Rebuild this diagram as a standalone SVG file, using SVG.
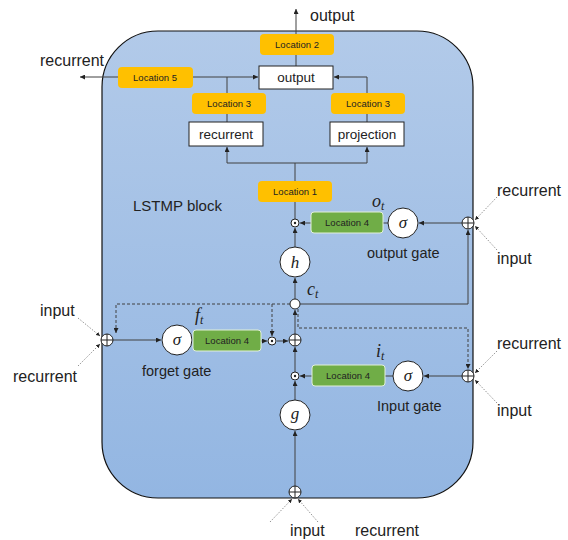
<svg xmlns="http://www.w3.org/2000/svg" width="568" height="540" viewBox="0 0 568 540">
<defs>
<linearGradient id="bg" x1="0" y1="0" x2="0" y2="1">
<stop offset="0" stop-color="#b2cae9"/>
<stop offset="1" stop-color="#93b6e2"/>
</linearGradient>
<marker id="ah" viewBox="0 0 6 6" refX="6" refY="3" markerWidth="5" markerHeight="5" orient="auto">
<path d="M0,0 L6,3 L0,6 z" fill="#222"/>
</marker>
<style>
.t{font-family:"Liberation Sans",Arial,sans-serif;fill:#222}
.big{font-size:16px}
.box{font-size:13.5px}
.loc{font-size:9.5px;fill:#222}
.m{font-family:"Liberation Serif","DejaVu Serif",serif;font-style:italic;fill:#222}
.c{fill:none;stroke:#404040;stroke-width:1}
.a{marker-end:url(#ah)}
.dash{stroke-dasharray:3,2}
.dot{fill:none;stroke:#777;stroke-width:0.8;stroke-dasharray:1.5,1.5}
.orange{fill:#ffc000}
.green{fill:#70ad47;stroke:#e2f0d9;stroke-width:1}
.wbox{fill:#fff;stroke:#222;stroke-width:1}
.circ{fill:#fff;stroke:#222;stroke-width:1}
</style>
</defs>
<rect id="lstmp-block" x="102" y="31" width="371" height="467" rx="56" ry="56" fill="url(#bg)" stroke="#111" stroke-width="1.2"/>
<text class="t" x="133" y="211" font-size="15">LSTMP block</text>

<g id="connectors">
<path class="c a" d="M296,66 V9"/>
<path class="c a" d="M227,122 V77 H258"/>
<path class="c a" d="M227,77 H80"/>
<path class="c a" d="M367,122 V77 H334"/>
<path class="c a" d="M295,219 V163 H227 V147"/>
<path class="c a" d="M295,163 H367 V147"/>
<path class="c a" d="M295,247 V228"/>
<path class="c a" d="M295,299 V278"/>
<path class="c a" d="M462,223 H419"/>
<path class="c" d="M388,223 H383"/>
<path class="c a" d="M311,223 H300"/>
<path class="c a" d="M300,304 H468 V230"/>
<path class="c a" d="M295,334 V310"/>
<path class="c a" d="M113,340 H161"/>
<path class="c a" d="M261,341 H267"/>
<path class="c a" d="M277,341 H288"/>
<path class="c a dash" d="M290,304 H116 V333"/>
<path class="c a dash" d="M272,304 V336"/>
<path class="c a dash" d="M298,309 V328 H468 V369"/>
<path class="c a" d="M462,376 H424"/>
<path class="c" d="M393,376 H385"/>
<path class="c a" d="M312,376 H300"/>
<path class="c a" d="M295,372 V347"/>
<path class="c a" d="M295,400 V381"/>
<path class="c a" d="M295,486 V431"/>
<path class="dot a" d="M497,197 L475,220"/>
<path class="dot a" d="M497,250 L475,226"/>
<path class="dot a" d="M78,318 L100,336"/>
<path class="dot a" d="M78,366 L100,344"/>
<path class="dot a" d="M497,351 L475,373"/>
<path class="dot a" d="M497,403 L475,380"/>
<path class="dot a" d="M270,522 L292,499"/>
<path class="dot a" d="M318,522 L298,499"/>
</g>

<text class="t big" x="310" y="21">output</text>
<text class="t big" x="40" y="66">recurrent</text>

<g id="loc2"><rect class="orange" x="260" y="34" width="74" height="21" rx="4"/><text class="t loc" x="297" y="48" text-anchor="middle">Location 2</text></g>
<g id="output-box"><rect class="wbox" x="259" y="66" width="74" height="23"/><text class="t box" x="296" y="82" text-anchor="middle">output</text></g>
<g id="loc5"><rect class="orange" x="118" y="67" width="75" height="21" rx="4"/><text class="t loc" x="155" y="81" text-anchor="middle">Location 5</text></g>
<g id="loc3a"><rect class="orange" x="192" y="93" width="74" height="21" rx="4"/><text class="t loc" x="229" y="107" text-anchor="middle">Location 3</text></g>
<g id="loc3b"><rect class="orange" x="331" y="93" width="74" height="21" rx="4"/><text class="t loc" x="368" y="107" text-anchor="middle">Location 3</text></g>
<g id="recurrent-box"><rect class="wbox" x="189" y="122" width="74" height="24"/><text class="t box" x="226" y="139" text-anchor="middle">recurrent</text></g>
<g id="projection-box"><rect class="wbox" x="330" y="122" width="74" height="24"/><text class="t box" x="367" y="139" text-anchor="middle">projection</text></g>
<g id="loc1"><rect class="orange" x="258" y="181" width="74" height="21" rx="4"/><text class="t loc" x="295" y="195" text-anchor="middle">Location 1</text></g>

<g id="out-odot"><circle class="circ" cx="295" cy="223" r="4"/><circle cx="295" cy="223" r="1.2" fill="#222"/></g>
<g id="out-loc4"><rect class="green" x="311" y="212" width="72" height="21" rx="3"/><text class="t loc" x="347" y="226" text-anchor="middle">Location 4</text></g>
<g id="out-sigma"><circle class="circ" cx="403" cy="223" r="15"/><text class="m" x="403" y="228" font-size="17" text-anchor="middle">σ</text></g>
<g id="out-plus"><circle class="circ" cx="468" cy="223" r="6"/><path d="M462,223 H474 M468,217 V229" stroke="#222" stroke-width="1"/></g>
<text class="m" x="372" y="207" font-size="18">o<tspan font-size="12" dy="3">t</tspan></text>
<text class="t" x="367" y="258" font-size="14.5">output gate</text>
<text class="t big" x="497" y="196">recurrent</text>
<text class="t big" x="497" y="264">input</text>

<g id="h-node"><circle class="circ" cx="295" cy="262" r="15"/><text class="m" x="295" y="268" font-size="17" text-anchor="middle">h</text></g>
<g id="ct-node"><circle class="circ" cx="295" cy="304" r="5"/></g>
<text class="m" x="307" y="295" font-size="18">c<tspan font-size="12" dy="3">t</tspan></text>

<g id="forget-plus"><circle class="circ" cx="107" cy="340" r="6"/><path d="M101,340 H113 M107,334 V346" stroke="#222" stroke-width="1"/></g>
<g id="forget-sigma"><circle class="circ" cx="177" cy="340" r="15"/><text class="m" x="177" y="345" font-size="17" text-anchor="middle">σ</text></g>
<g id="forget-loc4"><rect class="green" x="193" y="330" width="68" height="21" rx="3"/><text class="t loc" x="227" y="344" text-anchor="middle">Location 4</text></g>
<g id="forget-odot"><circle class="circ" cx="272" cy="341" r="4"/><circle cx="272" cy="341" r="1.2" fill="#222"/></g>
<g id="main-plus"><circle class="circ" cx="295" cy="340" r="6"/><path d="M289,340 H301 M295,334 V346" stroke="#222" stroke-width="1"/></g>
<text class="m" x="195" y="321" font-size="18">f<tspan font-size="12" dy="3">t</tspan></text>
<text class="t" x="142" y="376" font-size="14.5">forget gate</text>
<text class="t big" x="40" y="316">input</text>
<text class="t big" x="13" y="382">recurrent</text>

<g id="in-odot"><circle class="circ" cx="295" cy="376" r="4"/><circle cx="295" cy="376" r="1.2" fill="#222"/></g>
<g id="in-loc4"><rect class="green" x="312" y="365" width="73" height="21" rx="3"/><text class="t loc" x="348" y="379" text-anchor="middle">Location 4</text></g>
<g id="in-sigma"><circle class="circ" cx="408" cy="376" r="15"/><text class="m" x="408" y="381" font-size="17" text-anchor="middle">σ</text></g>
<g id="in-plus"><circle class="circ" cx="468" cy="376" r="6"/><path d="M462,376 H474 M468,370 V382" stroke="#222" stroke-width="1"/></g>
<text class="m" x="376" y="357" font-size="18">i<tspan font-size="12" dy="3">t</tspan></text>
<text class="t" x="377" y="411" font-size="14.5">Input gate</text>
<text class="t big" x="497" y="349">recurrent</text>
<text class="t big" x="497" y="416">input</text>

<g id="g-node"><circle class="circ" cx="295" cy="415" r="15"/><text class="m" x="295" y="419" font-size="17" text-anchor="middle">g</text></g>
<g id="bottom-plus"><circle class="circ" cx="295" cy="492" r="6"/><path d="M289,492 H301 M295,486 V498" stroke="#222" stroke-width="1"/></g>
<text class="t big" x="290" y="536">input</text>
<text class="t big" x="355" y="536">recurrent</text>
</svg>
